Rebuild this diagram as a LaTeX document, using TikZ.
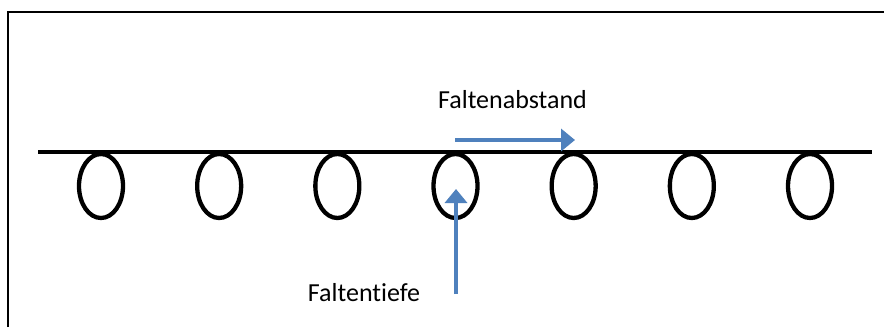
\documentclass[tikz,border=0pt]{standalone}
\usepackage{fontspec}
\setmainfont{Carlito}[Ligatures=NoCommon]
\usetikzlibrary{arrows.meta,shapes.geometric}
\definecolor{arrowblue}{HTML}{4F81BD}
\begin{document}
\begin{tikzpicture}[x=1pt,y=-1pt,
  frameline/.style={line width=1.3pt,black},
  rope/.style={line width=4pt,black},
  fold/.style={line width=4.3pt,black},
  bluearrow/.style={line width=3.5pt,arrowblue,-{Triangle[width=22pt,length=14pt]}},
  lbl/.style={font=\fontsize{26}{30}\selectfont,inner sep=0pt,anchor=base}]
\useasboundingbox (0,0) rectangle (884,327);
\fill[white] (0,0) rectangle (884,327);
% frame
\coordinate (fbl) at (8,327);
\coordinate (ftl) at (8,12);
\coordinate (ftr) at (884,12);
\draw[frameline] (fbl) -- (ftl) -- (ftr);
% folds
\foreach \i in {0,...,6}{
  \node[draw,fold,ellipse,minimum width=44pt,minimum height=64pt,inner sep=0pt] (e\i) at ({101+118.17*\i},186) {};
}
% rope line
\coordinate (rl) at (38,152);
\coordinate (rr) at (872,152);
\draw[rope] (rl) -- (rr);
% labels
\node[lbl] (abstand) at (512.5,108) {Faltenabstand};
\node[lbl] (tiefe) at (364,301) {Faltentiefe};
% arrows
\coordinate (ha) at (455,140);
\coordinate (hb) at (575,140);
\draw[bluearrow] (ha) -- (hb);
\coordinate (va) at (456,294);
\coordinate (vb) at (456,189);
\draw[bluearrow] (va) -- (vb);
\end{tikzpicture}
\end{document}
